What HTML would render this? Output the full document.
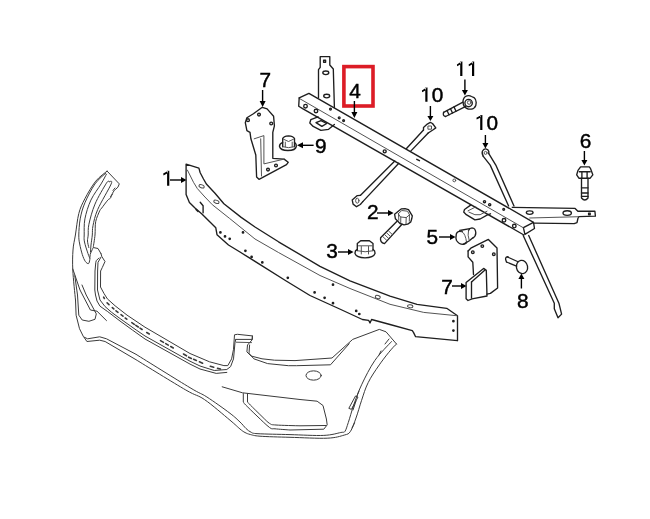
<!DOCTYPE html>
<html><head><meta charset="utf-8">
<style>
html,body{margin:0;padding:0;background:#fff;width:650px;height:519px;overflow:hidden}
svg{display:block;filter:blur(0.3px)}
.l{fill:none;stroke:#1e1e1e;stroke-width:1.35;stroke-linejoin:round;stroke-linecap:round}
.n{stroke:#4a4a4a;stroke-width:0.95}
.b{stroke:#3a3a3a;stroke-width:1.0}
.d{fill:#444;stroke:none}
.t{font-family:"Liberation Sans",sans-serif;font-size:20.8px;fill:#000;stroke:#000;stroke-width:0.45;text-anchor:middle}
.a{stroke:#000;stroke-width:1.4;fill:none}
.h{fill:#000;stroke:none}
</style></head>
<body>
<svg width="650" height="519" viewBox="0 0 650 519">
<rect width="650" height="519" fill="#fff"/>

<!-- red box -->
<rect x="343.9" y="66.6" width="29.1" height="39.4" fill="none" stroke="#dc1c26" stroke-width="3.6"/>

<!-- labels -->
<g class="t">
<text x="265.3" y="86.7">7</text>
<text x="355" y="98.4">4</text>
<text x="437.6" y="102.3">0</text>
<text x="492.35" y="130.4">0</text>
<text x="585.5" y="148.4">6</text>
<text x="320.8" y="153.4">9</text>
<text x="372.8" y="219.4">2</text>
<text x="332" y="258.4">3</text>
<text x="432.3" y="244.4">5</text>
<text x="447" y="294.4">7</text>
<text x="522.8" y="308.4">8</text>
</g>

<!-- arrows -->
<g class="a">
<path d="M262.6 90V102"/>
<path d="M354.4 101V113"/>
<path d="M464.9 79.6V91"/>
<path d="M430.4 106V117"/>
<path d="M485.4 135V144"/>
<path d="M584.4 151V161"/>
<path d="M313.6 145.3H302"/>
<path d="M170 180H182"/>
<path d="M377 213H389"/>
<path d="M338 252H349"/>
<path d="M439 237H451"/>
<path d="M452 286H462"/>
<path d="M521.4 288.5V278"/>
</g>
<g class="h">
<path d="M167.10 170.70H169.30V185.70H167.10ZM168.30 170.70L163.20 173.60L163.50 175.40L167.10 173.60Z"/>
<path d="M460.20 61.50H462.40V76.10H460.20ZM461.40 61.50L456.90 64.40L457.20 66.20L460.20 64.40Z"/>
<path d="M472.00 61.50H474.20V76.10H472.00ZM473.20 61.50L468.60 64.40L468.90 66.20L472.00 64.40Z"/>
<path d="M425.30 87.50H427.50V101.80H425.30ZM426.50 87.50L421.90 90.40L422.20 92.20L425.30 90.40Z"/>
<path d="M480.20 114.90H482.40V129.90H480.20ZM481.40 114.90L476.40 117.80L476.70 119.60L480.20 117.80Z"/>
<path d="M259.6 101h6l-3 6z"/>
<path d="M351.4 112h6l-3 6z"/>
<path d="M461.9 90h6l-3 5.5z"/>
<path d="M427.4 116h6l-3 5z"/>
<path d="M482.4 143h6l-3 5.5z"/>
<path d="M581.4 160h6l-3 5.5z"/>
<path d="M303 142.3v6l-6-3z"/>
<path d="M181 177v6l5.5-3z"/>
<path d="M388 210v6l5.6-3z"/>
<path d="M348 249v6l5.5-3z"/>
<path d="M450 234v6l5.5-3z"/>
<path d="M461 283v6l5.5-3z"/>
<path d="M518.4 279h6l-3-5.5z"/>
</g>

<g class="l">
<!-- ===== tie bar (4) ===== -->
<path d="M299.2 97.9L308.9 93.4L533.5 222.3L534.5 228.5L524.9 234.3L523.4 227.6L533.5 222.3"/>
<path class="n" d="M299.6 98.6L523.4 227.8"/>
<path d="M299.2 97.9L298.7 106.2L302.6 108.6L523.9 235"/>
<!-- vertical tab -->
<path d="M318.5 97.5V69.7L320.2 67.4V56.6H329.8V65L333.3 69L334.4 107.6"/>
<ellipse cx="325.8" cy="72.8" rx="3" ry="1.8"/>
<ellipse cx="326.7" cy="96.1" rx="3" ry="1.8"/>
<rect x="323.6" y="60.2" width="2" height="2"/>
<!-- left hanging tab -->
<path d="M318 116.8L310.8 119.7L309.8 123L313.2 126.4L320.9 130.3L328.6 129.3L334.4 124.5"/>
<path d="M316 122.6L321 120.6L326.7 123.5L321.9 126.4Z"/>
<circle cx="305.5" cy="106.2" r="1.8"/>
<circle cx="316" cy="111" r="1.8"/>
<circle cx="330.5" cy="109.1" r="0.9"/>
<circle cx="339.2" cy="117.8" r="0.9"/>
<circle cx="343.6" cy="120.6" r="0.9"/>
<circle cx="384.7" cy="151.3" r="1.5"/>
<path d="M416.8 159.3l2.6 1.3" stroke-width="1.5"/>
<circle class="n" cx="454.3" cy="180.4" r="1.4" stroke="#777"/>
<circle cx="484.5" cy="201.7" r="1.1"/>
<circle cx="489.7" cy="204.7" r="1.1"/>
<circle cx="503.7" cy="209.3" r="0.9"/>
<circle cx="504" cy="220.3" r="1.8"/>
<circle cx="514.3" cy="226" r="1.8"/>
<!-- right tab -->
<path d="M512.3 207.3L575.1 208.4L577.9 211.2L594.9 211.2L595.4 216.2L578.8 216.7L577.9 218.5L577 222.7L574.2 223.6L534.5 223.2"/>
<path class="n" d="M529.7 218L578.8 216.7"/>
<ellipse cx="567.2" cy="213" rx="4.2" ry="2.3"/>
<ellipse cx="529.7" cy="212.6" rx="3.4" ry="1.8"/>
<rect x="588.6" y="213.1" width="1.6" height="1.6"/>
<!-- lower hanging tab near right -->
<path d="M470.6 205.1L464.5 209.5L463.7 212.1L466.3 214.7L474.9 219.9L480.1 219L487.9 214.7L490.5 213.8"/>
<path class="n" d="M468 210.8L475.8 206.9M468.9 212.1L474.9 214.7L480.1 214.7L487 211.2"/>

<!-- rod 10 left -->
<path d="M360.3 195.4L394.8 160.9M406.5 148.5L423.5 130M362.8 201.6L398.8 163.2M410.5 151.4L428.2 133"/>
<path d="M360.3 195.4L357.3 195.6L352.2 199.9L353.1 204.1L356.5 206.7L360.3 204.5L362.8 201.6"/>
<ellipse class="n" cx="357.3" cy="200.7" rx="1.7" ry="2.5" stroke="#888"/>
<path d="M423.5 130L423.5 127.5L427.3 124.1L430.3 122.4L432.5 123.5L435.8 127.9L432.8 130L428.2 133"/>
<rect class="n" x="428.3" y="126" width="3.2" height="3.2" stroke="#888"/>
<!-- rod 10 right -->
<path d="M483.3 156.4L490.2 165.1L508.6 206M488.8 153.6L495.8 165.1L514 206"/>
<path d="M483.3 156.4Q481.5 153 482.5 151Q484 148.7 485.8 148.9Q488.3 149.3 488.8 151.5L488.8 153.6"/>
<circle class="n" cx="485.6" cy="152.9" r="1.5" stroke="#888"/>
<path d="M523.2 235.5L554.3 303.2L554.3 308.7L558 317.8L561.6 314.1L558.9 303.2L528.7 235.5"/>

<!-- bolt 11 -->
<path d="M443.6 112.3L463 102.2M445.6 116.5L465.8 106.4"/>
<path d="M443.6 112.3Q442.5 116 445.6 116.5"/>
<path d="M447 110.5L449 114.8M450.5 108.7L452.5 113M454 106.9L456 111.2"/>
<path d="M463 101Q463.5 96.8 467 95.8Q469.5 95.2 471.5 96.5L474 97.6Q476.3 99.5 476.2 102.5L475.8 105.5Q474.5 108.8 471.2 109.2L468.2 109Q464.8 108.2 463.4 104.8Z"/>
<circle cx="468.6" cy="103" r="3.7"/>
<circle class="n" cx="469.2" cy="102.5" r="1.8" stroke="#888"/>

<!-- bolt 6 -->
<path d="M580.6 166.9H589.3L590.6 168.7L592.8 174.8L590.2 178.2H578.9L576.7 174.8L578 170.4Z"/>
<path d="M579.3 171.7H590.2M581.9 171.7V178.2M587.1 171.7V178.2"/>
<path d="M581.5 178.2V198Q584.8 202 588 198V178.2"/>
<path d="M581.5 187.8H588M581.5 193H588M581.5 196.4H588"/>

<!-- bracket 7 upper -->
<path d="M262.3 107.3L267.1 108.9L273.6 116.2L274.4 125.9L272.8 132.4L272.8 158.3L284.1 159.1L288.2 162.3L286.5 164.7L262.3 177.7L259 179.3L256.6 176.9L255.8 155L250.9 138.8L250 132.4L246.9 130.7L245.3 122.7L246.9 117.8L253.4 113.8Z"/>
<path class="n" d="M254.2 138.8L263.9 135.6L263.9 163.9L284.1 159.1"/>
<path class="n" d="M260.7 138.8L261.5 176"/>
<circle cx="259" cy="114.6" r="1.4"/>
<circle cx="248" cy="120.2" r="1.4"/>
<circle cx="271.2" cy="123.5" r="1.4"/>
<circle cx="268" cy="169.6" r="1.4"/>
<circle cx="276" cy="165.5" r="1.4"/>

<!-- nut 9 -->
<path d="M282.7 142.3Q279.3 143.8 279.5 146.5Q280.5 150.5 287.9 150.5Q295.5 150.5 296.3 146.5Q296.5 143.8 294.5 142.3"/>
<path d="M282.7 146.8V138.5Q283.5 136.2 288.5 135.8Q293.5 136.2 294.5 138.5V146.8"/>
<path class="n" d="M283.5 139.2L288.5 141.5L293.5 139.2M285.3 142.1V146.8M292.2 142.1V146.8M283 146.8Q288.5 148.6 294.2 146.8"/>
<!-- bolt 2 -->
<path d="M396.8 221.6L380.6 237.8Q379.8 242.5 384.5 243.6L402 224.3"/>
<path class="n" d="M382.6 236.4L386.6 240.2M384.6 234.6L388.6 238.4M386.6 232.8L390.6 236.6M388.6 231L392.6 234.8"/>
<path d="M394.6 214.2L398 211.5L401.5 208.8L405 208.6L408.5 209.6L412.3 215.8L411.8 218.5L410.8 221.9L407.7 224.2L404 224.8L400 223.5L395.4 218.8Z"/>
<path class="n" d="M398.5 213.5L401.8 210.5L407.5 211.2L409.5 214.8L406.2 217.6L400.8 217ZM398.5 213.5L398.8 220.3M409.5 214.8L409.3 221.2M406.2 217.6L406 223.8M400.8 217L400.7 222.8"/>
<!-- nut 3 -->
<path d="M357.3 249.5Q354.8 250.5 355 253.5Q356.5 257.7 365 257.8Q373.5 257.7 375 253.5Q375.2 250.5 373.2 249.5"/>
<path d="M357.3 250.5V243.5L360.7 240.7H369.4L373 243.5V250.5"/>
<path class="n" d="M358.5 245.8H371.8M361.3 246.5V254M368.5 246.5V254M357.5 250.8Q365 252.8 373 250.8"/>
<!-- clip 5 -->
<path d="M472.8 238.1Q475.8 236.5 475.8 232.8Q475.5 228 472 227.9Q469.5 228 468.5 230.5"/>
<path d="M459.7 230.5L469.8 228.6M463.1 244.4L469 241L472.6 238"/>
<path d="M462.2 231.7Q457.5 230.2 456.3 234Q455.5 238 456.5 240.5Q459 244.4 463.1 244.4Q466.8 243.8 466.5 241.9"/>
<path class="n" d="M462.2 231.7Q465.5 234 466.5 241.9M459.7 230.5Q461 230.8 462.2 231.7M468.5 230.5Q467.3 235 469.2 240.5"/>
<!-- bracket 7 lower -->
<path d="M468.1 250.9L470.8 248.2L488.4 239.4L497 248L497.6 288L490.4 293.4L487 294.2"/>
<path d="M468.1 250.9L468.1 256.9L472.8 262.3L473.5 274.5"/>
<path d="M466.1 282.6L483.6 268.4L486.3 270.4L487 296L472 298.8L468 300.5L466.1 298.8Z"/>
<path d="M471.5 281.9L485 270"/>
<path d="M471.5 281.9L471.5 298"/>
<circle cx="472.8" cy="252.2" r="1.3"/>
<circle cx="482.3" cy="246.1" r="1.3"/>
<circle cx="493.8" cy="254.2" r="1.3"/>

<!-- screw 8 -->
<ellipse cx="522" cy="267" rx="5.6" ry="6.7" transform="rotate(-10 522 267)"/>
<path d="M507.5 257L517.5 261.5M506.5 262L516.5 266.2"/>
<path d="M508 256.75Q504 257 506.5 262"/>

<!-- ===== beam 1 ===== -->
<path d="M186.1 164.1L198.9 168.1L200.2 172.8L203.5 179L206.6 184.3L215 193.2L223.9 203.8L241.2 217.4L255 227L278.5 241.8L320 266.3L350 280.8L390 296.2L417 304.3L446.7 308.3L457.5 315.8L457.5 340.7L415.6 336.7L413.6 332.6L412.3 330.6L390 324.5L371.6 319.5L370 323L368.6 320.3L362.4 319.5L340.8 309.5L310 295.5L286.2 281L240 252L228.5 245L217 234.7L215.8 227.8L201.9 213.9L195 208.1L189.4 202.5L186.1 194.4Z"/>
<path class="n" d="M187.4 170.1L193.5 182.3L197.3 188.5L204 196L212.3 204.7L229.7 218.5L255 239L278.5 252.5L320 275.5L350 288.5L390 304.3L423.7 312.4L457.5 315.8"/>
<ellipse class="n" stroke="#777" cx="201.6" cy="186.3" rx="2.7" ry="1.5" transform="rotate(20 201.6 186.3)"/>
<ellipse class="n" stroke="#777" cx="216.4" cy="201.8" rx="2.7" ry="1.5" transform="rotate(20 216.4 201.8)"/>
<ellipse class="n" stroke="#777" cx="377.8" cy="297" rx="2.5" ry="1.5" transform="rotate(15 377.8 297)"/>
<ellipse class="n" stroke="#777" cx="410.2" cy="306.3" rx="2.7" ry="1.5" transform="rotate(8 410.2 306.3)"/>
<path d="M200.2 202.3L203.1 205.8L203.1 212.7"/>
<path d="M196 209.5L198 211.5"/>
<circle cx="243" cy="232.4" r="0.7"/><circle cx="220.4" cy="232.4" r="0.7"/><circle cx="225" cy="236.4" r="0.7"/><circle cx="229.7" cy="238.8" r="0.7"/>
<circle cx="245.4" cy="250.8" r="0.7"/>
<circle cx="251.6" cy="257" r="0.7"/>
<circle cx="262.3" cy="262.4" r="0.7"/>
<circle cx="287.8" cy="277.8" r="0.7"/>
<circle cx="333" cy="284.7" r="0.7"/>
<circle cx="314.6" cy="292.4" r="0.7"/>
<circle cx="324.6" cy="297.8" r="0.7"/>
<circle cx="333" cy="303.2" r="0.7"/>
<circle cx="356.2" cy="310.9" r="0.7"/>
<circle cx="359.3" cy="314" r="0.7"/>
<circle cx="453.4" cy="321.2" r="0.7"/>
<circle cx="453.4" cy="330.6" r="0.7"/>

</g>
<g class="l b">
<!-- ===== bumper cover ===== -->
<!-- wing curves -->
<path d="M107.1 171.1C105.2 172.8 99.4 176.6 95.7 181.2C92.0 185.8 87.7 193.3 84.9 198.7C82.1 204.1 80.4 207.4 78.8 213.5C77.2 219.6 76.4 228.9 75.4 235.0C74.4 241.1 73.4 244.2 73.0 250.0C72.6 255.8 72.4 261.7 72.8 270.0C73.2 278.3 75.0 295.0 75.5 300.0"/>
<path d="M105.8 173.1C104.0 174.9 98.5 178.9 95.0 183.9C91.5 188.9 87.4 197.0 84.9 202.8C82.4 208.6 81.2 213.5 80.2 218.9C79.2 224.3 78.9 230.8 78.8 235.0C78.7 239.2 79.1 240.8 79.7 244.0C80.3 247.2 81.4 251.6 82.3 254.5C83.2 257.4 84.3 259.9 85.3 261.4C86.3 262.9 87.8 263.9 88.5 263.6C89.2 263.3 89.5 261.2 89.8 259.7C90.1 258.2 89.7 256.4 90.2 254.5C90.7 252.6 92.4 249.5 92.8 248.5"/>
<path d="M106.4 174.2C105.5 175.8 103.7 179.6 101.1 183.9C98.5 188.2 93.6 194.3 90.9 200.1C88.2 205.9 86.0 213.1 84.9 218.9C83.8 224.7 84.3 231.2 84.2 235.0C84.1 238.8 83.9 238.9 84.5 242.0C85.1 245.1 87.1 250.9 88.0 253.6C88.9 256.3 89.4 257.3 89.7 258.0"/>
<path d="M109.1 181.9C108.6 182.1 108.8 179.5 106.4 183.2C104.1 186.9 97.9 197.2 95.0 204.1C92.1 210.9 90.0 219.2 88.9 224.3C87.8 229.5 88.4 232.2 88.2 235.0C88.0 237.8 87.4 238.9 87.5 241.0C87.6 243.1 88.6 246.4 88.8 247.5"/>
<path d="M109.1 181.9C109.4 182.2 113.1 179.3 111.2 183.9C109.3 188.5 100.7 202.5 97.7 209.5C94.7 216.5 93.9 221.4 93.0 225.7C92.1 229.9 92.6 231.8 92.3 235.0C92.0 238.2 91.3 242.2 91.0 245.0C90.7 247.8 90.6 250.8 90.5 252.0"/>
<path d="M107.1 171.1L119.3 183.9L117.9 187.2C117.1 188.0 114.4 190.2 113.2 192.0C112.0 193.8 111.4 196.7 110.5 198.0C109.6 199.3 109.3 198.4 107.8 200.1C106.3 201.8 103.0 206.3 101.7 208.1C100.4 209.9 100.7 208.6 99.7 210.8C98.7 213.1 96.5 217.6 95.7 221.6C94.9 225.6 95.4 230.7 95.0 235.0C94.6 239.3 93.5 245.4 93.2 247.5L98 248.5L101 253.7"/>
<path d="M113 190.5l2-2.5M110.5 196.5l2-2.5"/>
<!-- left side lower -->
<path d="M72.8 269L80 290L90.4 310L97 311.2L106.5 320.6"/>
<path d="M74.8 275.8L77.5 295L78.8 315.2L82.2 320L88.9 321.3L95 319.3L96.3 313.9L86.2 295L82 285"/>
<path d="M75.5 300L76.1 315.2L79.5 328.7L83.5 336.8L87.6 338.8L99.7 336.8L106.5 338.8L136 354.3C145.0 359.9 178.2 380.6 190.0 387.7C201.8 394.8 200.2 392.7 206.9 397.0C213.6 401.3 224.5 409.1 230.0 413.3C235.5 417.5 237.3 419.5 240.0 422.0C242.7 424.5 244.2 426.8 246.0 428.5C247.8 430.2 249.0 431.3 251.0 432.2C253.0 433.1 251.5 433.3 258.0 433.7C264.5 434.1 279.0 434.3 290.0 434.6C301.0 434.9 315.3 435.8 323.8 435.4C332.3 435.0 337.3 433.2 340.8 432.5C344.3 431.8 343.8 433.0 345.0 431.3C346.2 429.6 346.8 426.9 348.3 422.5C349.8 418.1 351.6 411.1 353.8 404.8C356.0 398.5 358.1 392.2 361.6 384.8C365.1 377.4 369.9 367.6 374.9 360.4C379.9 353.2 388.7 344.7 391.5 341.6"/>
<path d="M84.2 337.5L86.9 341.5L99.7 340.2L105.1 341.5L136 359.7C144.3 364.8 174.4 383.4 185.8 390.0C197.2 396.6 197.0 394.5 204.4 399.5C211.8 404.5 224.1 415.3 230.0 420.2C235.9 425.1 237.5 426.9 240.0 429.0C242.5 431.1 243.3 431.6 245.0 432.5C246.7 433.4 247.8 433.9 250.3 434.5C252.8 435.1 253.4 435.7 260.0 436.2C266.6 436.7 278.8 437.0 290.0 437.3C301.2 437.6 318.2 438.6 327.2 438.2C336.2 437.8 340.3 436.2 344.2 435.1C348.1 434.0 348.5 434.2 350.5 431.3C352.5 428.4 354.1 423.2 356.0 418.0C357.9 412.8 359.6 406.2 361.6 400.3C363.6 394.4 365.2 388.5 368.2 382.6C371.1 376.7 374.7 371.5 379.3 364.9C383.9 358.2 393.2 346.4 396.5 344.0"/>
<!-- grille opening -->
<path d="M98.9 258L96.3 260.6L95.8 262.3L95 271L94.8 290L95.5 295L97 301L100 306.2L107.7 311.6L120 321L132.4 330L145 339L190 364.1L200 369L216.2 373.4L226.8 372.4"/>
<path d="M101 257.1L98 262.3L97.6 271L97.5 290L100 300L105 306.5L111.6 312.3L120 318.5L127 323.5L136.2 330L145 336L190 361.2L200 366L214.3 370.5L226.8 369.5L230.6 366.6L233.5 358.9L235 342.5L235.8 339.4"/>
<path d="M101 253.7L101.9 256.7L105 261.5L102.3 267.5L100.6 271L100.5 287L104 293.5L107.4 298.9L115.1 305.8L127 315.1L145 327.2L190 353.5L209.5 361.8L223.9 365.6L227.8 365.6L231.6 358.9L233.5 349.3L234.5 334.8L237.4 334.3L252.4 335.9L252.4 339.4L235.8 339.4"/>

<path d="M252.4 335.9L252 340L247.5 345L246.9 351.9L251 356L262 358.8L274.6 360.2L295 360.6L332 358L352.7 339.4L379.3 329.4L386 331.8L396.5 344"/>
<path d="M249.6 345L249 353.2L253.8 358.8L267.6 363.6L288.4 365.7L296.7 365.7L330.5 364.8L349.2 343.7"/>
<path class="n" d="M236.2 342.2L251.5 342.6"/>
<path d="M389 339L385 344M381 351L379 355M357 396L359 391M353 410L356 401"/>
<!-- grille texture marks -->
<path stroke-width="1.6" d="M103.6 297.2l0.8 1.3M107.1 302.9l1.9 1.7M112.3 307.6l1.5 1.3M116.0 310.8l2.0 1.5M121.0 314.7l2.0 1.5M125.2 318.0l1.6 1.2M131.8 322.6l2.5 1.7M135.8 325.3l2.5 1.7M140.0 328.1l2.1 1.4M146.7 332.5l2.6 1.5M160.5 340.6l3.0 1.8M165.7 343.6l2.6 1.5M170.7 346.5l2.6 1.5M183.5 354.0l3.0 1.8M188.6 357.2l2.8 1.2M193.6 359.3l2.8 1.2M199.4 361.8l3.2 1.4M210.3 366.3l3.4 0.9M217.5 368.2l2.9 0.8"/>
<!-- fog light -->
<path d="M222.2 386.8L242.5 392.8L300 399.5L317.1 401.2L323 405.5L326.4 419L327.2 424.9L323.8 429.2L290 430C287.5 429.8 278.4 429.2 275.0 428.8C271.6 428.4 272.7 429.7 269.7 427.6C266.7 425.5 261.0 419.8 257.0 416.0C253.0 412.2 248.0 407.3 245.7 405.0C243.4 402.7 243.7 402.5 243.3 402.0L243.3 393.6"/>
<path d="M247.5 393.6L247.5 402C248.0 402.5 247.9 402.6 250.3 405.0C252.7 407.4 258.8 413.4 262.0 416.5C265.2 419.6 267.4 422.1 269.7 423.5C272.0 424.9 270.9 424.6 276.0 425.0C281.1 425.4 296.0 425.7 300.0 425.8L326 425.5"/>
<ellipse cx="313.6" cy="375.5" rx="7.6" ry="4.65"/>
<path d="M351.6 409L358 397L355.5 396L349 408ZM352 428L354.5 423"/>
</g>
</svg>
</body></html>
